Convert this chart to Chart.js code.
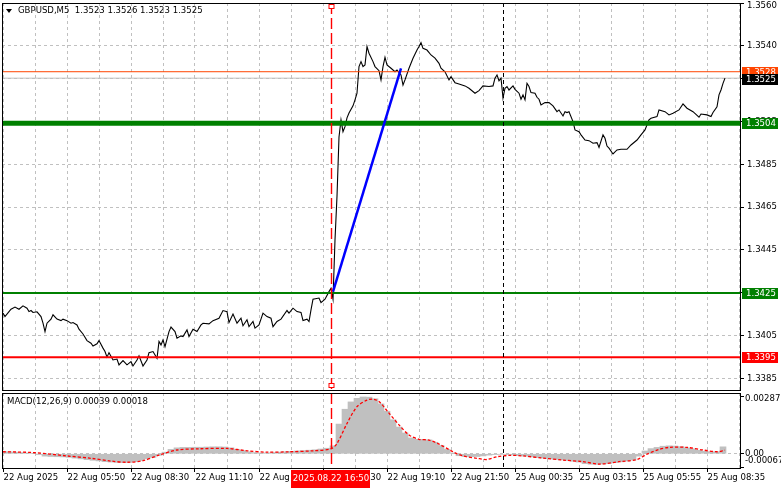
<!DOCTYPE html>
<html>
<head>
<meta charset="utf-8">
<script src="https://cdn.jsdelivr.net/npm/chart.js@4.4.1/dist/chart.umd.min.js"></script>
<style>
body{margin:0;background:#fff;}
#wrap{position:relative;width:781px;height:489px;background:#fff;}
#priceChart{position:absolute;left:0;top:0;}
#macdChart{position:absolute;left:0;top:391px;}
</style>
</head>
<body>
<div id="wrap">
<canvas id="priceChart" width="781" height="391"></canvas>
<canvas id="macdChart" width="781" height="98"></canvas>
</div>
<script>

const FONT = "'DejaVu Sans Condensed', 'DejaVu Sans', sans-serif";
const FONT_SIZE = 9.5;

Chart.defaults.font.family = FONT;
Chart.defaults.font.size = FONT_SIZE;
Chart.defaults.color = "#000";

// GBPUSD M5 closes, bar number from the left edge of the chart
const closeBars = [
0,1,3,4,6,8,10,12,13,14,15,17,19,20,21,22,24,25,27,29,30,32,34,35,37,38,40,42,44,45,47,48,
50,51,52,53,55,57,58,60,62,64,65,67,68,70,72,73,75,77,78,79,80,81,83,84,86,87,89,90,92,93,95,97,99,
100,103,105,108,110,112,113,115,117,119,120,122,123,125,126,128,130,132,134,135,137,139,142,143,145,147,149,
150,152,153,154,155,158,159,161,163,164,165,166,167,168,169,170,171,172,173,175,176,177,178,179,180,181,182,183,185,186,188,189,190,191,192,194,196,197,199,
200,201,203,205,207,208,209,210,212,214,216,218,219,221,223,224,226,228,231,233,236,238,240,243,245,246,247,248,249,
250,251,252,253,255,256,258,259,260,261,262,263,264,266,267,268,269,271,273,275,277,278,280,281,282,283,285,286,288,289,291,293,295,297,298,
300,301,302,303,305,307,309,312,314,317,319,321,323,324,327,328,331,333,335,338,340,342,345,348,349,352,354,355,357,358,359,360,361
];

const closePrices = [
1.34156,1.34140,1.34163,1.34174,1.34184,1.34174,1.34190,1.34179,1.34163,1.34168,1.34159,1.34162,1.34140,1.34109,1.34070,1.34109,1.34128,1.34148,1.34128,1.34121,1.34128,1.34121,1.34109,1.34112,1.34101,1.34081,1.34059,1.34028,1.34016,1.34003,1.34013,1.34028,
1.33993,1.33977,1.33951,1.33972,1.33938,1.33942,1.33915,1.33935,1.33915,1.33930,1.33910,1.33938,1.33957,1.33910,1.33938,1.33972,1.33977,1.33946,1.34024,1.34008,1.34031,1.34000,1.34070,1.34091,1.34070,1.34039,1.34050,1.34047,1.34078,1.34047,1.34081,1.34070,1.34101,
1.34109,1.34106,1.34121,1.34132,1.34168,1.34163,1.34112,1.34152,1.34109,1.34132,1.34097,1.34125,1.34093,1.34117,1.34086,1.34101,1.34156,1.34140,1.34132,1.34093,1.34117,1.34128,1.34168,1.34156,1.34179,1.34163,1.34159,
1.34121,1.34128,1.34117,1.34171,1.34221,1.34226,1.34205,1.34221,1.34256,1.34272,1.34221,1.34497,1.34700,1.34976,1.35056,1.35001,1.35024,1.35065,1.35088,1.35121,1.35149,1.35180,1.35304,1.35327,1.35304,1.35312,1.35397,1.35366,1.35327,1.35304,1.35285,1.35242,1.35304,1.35347,1.35312,1.35296,1.35280,1.35288,1.35265,
1.35218,1.35242,1.35296,1.35343,1.35381,1.35397,1.35415,1.35389,1.35381,1.35358,1.35343,1.35319,1.35296,1.35280,1.35242,1.35257,1.35229,1.35223,1.35214,1.35203,1.35180,1.35192,1.35214,1.35211,1.35214,1.35250,1.35265,1.35238,1.35250,
1.35157,1.35203,1.35211,1.35195,1.35214,1.35198,1.35180,1.35152,1.35172,1.35149,1.35226,1.35211,1.35183,1.35180,1.35161,1.35152,1.35125,1.35136,1.35136,1.35121,1.35094,1.35102,1.35074,1.35094,1.35090,1.35094,1.35048,1.35009,1.35001,1.34986,1.34962,1.34959,1.34947,1.34950,1.34928,
1.34986,1.34970,1.34934,1.34924,1.34897,1.34916,1.34919,1.34919,1.34939,1.34962,1.34986,1.35009,1.35056,1.35063,1.35071,1.35102,1.35094,1.35079,1.35087,1.35102,1.35130,1.35110,1.35094,1.35068,1.35083,1.35079,1.35071,1.35090,1.35117,1.35172,1.35195,1.35226,1.35250
];

const priceTicks = [1.3560, 1.3540, 1.3525, 1.3505, 1.3485, 1.3465, 1.3445, 1.3425, 1.3405, 1.3385];

const levelPrices = [1.3528, 1.3504, 1.3425, 1.3395];
const bidPrice = 1.3525;

const trendBars = [165, 199];
const trendPrices = [1.34256, 1.35296];

// MACD main values, one every 3 bars starting at bar 0
const macdValues = [
0.00012,0.00010,0.00008,0.00006,0.00004,0.00002,-0.00004,-0.00012,-0.00014,-0.00015,
-0.00016,-0.00018,-0.00022,-0.00026,-0.00030,-0.00033,-0.00036,-0.00040,-0.00042,-0.00044,
-0.00045,-0.00044,-0.00040,-0.00034,-0.00026,-0.00018,-0.00008,0.00008,0.00022,0.00030,
0.00032,0.00032,0.00033,0.00033,0.00034,0.00035,0.00035,0.00034,0.00030,0.00022,
0.00016,0.00010,0.00006,0.00004,0.00004,0.00006,0.00008,0.00010,0.00012,0.00014,
0.00016,0.00018,0.00020,0.00024,0.00028,0.00040,0.00150,0.00225,0.00262,0.00280,
0.00287,0.00286,0.00278,0.00252,0.00215,0.00172,0.00135,0.00105,0.00080,0.00073,
0.00073,0.00070,0.00058,0.00042,0.00022,0.00004,-0.00010,-0.00014,-0.00015,-0.00014,
-0.00011,-0.00007,-0.00004,-0.00003,-0.00004,-0.00006,-0.00009,-0.00012,-0.00016,-0.00019,
-0.00022,-0.00025,-0.00028,-0.00031,-0.00034,-0.00038,-0.00042,-0.00050,-0.00053,-0.00054,
-0.00052,-0.00049,-0.00045,-0.00041,-0.00037,-0.00032,-0.00012,0.00014,0.00026,0.00032,
0.00038,0.00040,0.00039,0.00036,0.00030,0.00025,0.00018,0.00013,0.00010,0.00010,
0.00035
];

const signalBars = [0,15,32,44,54,62,70,78,87,98,112,122,132,143,155,164,167,172,177,182,185,188,193,198,203,208,213,218,225,230,237,242,247,253,260,270,280,290,298,308,317,322,328,333,342,350,357,361];
const signalValues = [0.00010,0.00006,-0.00011,-0.00023,-0.00037,-0.00043,-0.00035,-0.00007,0.00019,0.00025,0.00027,0.00015,0.00008,0.00010,0.00015,0.00025,0.00052,0.00153,0.00238,0.00271,0.00276,0.00264,0.00205,0.00146,0.00095,0.00073,0.00069,0.00049,0.00010,-0.00011,-0.00023,-0.00029,-0.00015,-0.00008,-0.00011,-0.00022,-0.00032,-0.00040,-0.00052,-0.00040,-0.00029,-0.00002,0.00022,0.00032,0.00032,0.00019,0.00010,0.00018];

const macdTicks = [0.00287, 0, -0.00067];
const macdTickLabels = ["0.00287", "0.00", "-0.00067"];

const timeLabels = ["22 Aug 2025", "22 Aug 05:50", "22 Aug 08:30", "22 Aug 11:10", "22 Aug 13:50", "22 Aug 16:30",
    "22 Aug 19:10", "22 Aug 21:50", "25 Aug 00:35", "25 Aug 03:15", "25 Aug 05:55", "25 Aug 08:35"];

const crossBar = 164;
const crossText = "2025.08.22 16:50";
const markBar = 250;

const titleText = "GBPUSD,M5  1.3523 1.3526 1.3523 1.3525";
const macdText = "MACD(12,26,9) 0.00039 0.00018";


function barAxis(withTicks){

    return {
        type: "linear",
        offset: false,
        min: -0.5,
        max: 368.5,
        afterBuildTicks: axis => {
            axis.ticks = [];
            for (let b = 0; b <= 368; b += 16) {
                axis.ticks.push({ value: b });
            }
        },
        grid: {
            color: "#c0c0c0",
            offset: false,
            drawTicks: withTicks,
            tickLength: 4,
            tickColor: ctx => ctx.index % 2 ? "rgba(0,0,0,0)" : "#000"
        },
        border: { display: false, dash: [3, 3] },
        ticks: { display: false },
        afterFit: axis => {
            axis.height = withTicks ? 21 : 0;
            axis.paddingLeft = 0;
            axis.paddingRight = 0;
        }
    };

}

function frameAndMarks(isMain){

    return {
        id: "frame" + (isMain ? "Main" : "Macd"),
        afterDatasetsDraw(chart){
            const c = chart.ctx;
            const a = chart.chartArea;
            const xs = chart.scales.x;

            c.save();
            c.lineWidth = 1;

            // black dashed marker
            let x = Math.round(xs.getPixelForValue(markBar)) + 0.5;
            c.strokeStyle = "#000";
            c.setLineDash([4, 3]);
            c.beginPath();
            c.moveTo(x, a.top);
            c.lineTo(x, a.bottom);
            c.stroke();

            // red crosshair
            x = Math.round(xs.getPixelForValue(crossBar)) + 0.5;
            c.strokeStyle = "#ff0000";
            c.lineWidth = 1.4;
            c.setLineDash([11, 4]);
            c.beginPath();
            c.moveTo(x, a.top);
            c.lineTo(x, a.bottom);
            c.stroke();
            c.setLineDash([]);

            if (isMain) {
                c.lineWidth = 1;
                c.fillStyle = "#fff";
                c.fillRect(x - 2.5, a.top + 1, 5, 4);
                c.strokeRect(x - 2.5, a.top + 1.5, 5, 4);
                c.fillRect(x - 2.5, a.bottom - 6, 5, 4);
                c.strokeRect(x - 2.5, a.bottom - 6.5, 5, 4);
            }

            c.restore();
        },
        afterDraw(chart){
            const c = chart.ctx;
            const a = chart.chartArea;
            const ys = chart.scales.y;
            const xs = chart.scales.x;

            c.save();
            c.strokeStyle = "#000";
            c.lineWidth = 1;
            c.strokeRect(a.left + 0.5, a.top + 0.5, a.right - a.left, a.bottom - a.top);
            c.font = FONT_SIZE + "px " + FONT;
            c.textAlign = "left";
            c.textBaseline = "middle";
            c.fillStyle = "#000";

            if (isMain) {

                c.beginPath();
                c.moveTo(6, 9);
                c.lineTo(12, 9);
                c.lineTo(9, 13);
                c.closePath();
                c.fill();
                c.fillText(titleText, 18, 11);

                // top price label sits just inside the window
                c.fillText(priceTicks[0].toFixed(4), 747, ys.getPixelForValue(priceTicks[0]) + 2.5);

                const tagColors = ["#ff4500", "#008000", "#008000", "#ff0000"];

                levelPrices.forEach((p, i) => {
                    const y = Math.round(ys.getPixelForValue(p));
                    c.fillStyle = tagColors[i];
                    c.fillRect(742, y - 5, 36, 11);
                    c.fillStyle = "#fff";
                    c.fillText(p.toFixed(4), 746, y + 0.5);
                });

                const yb = Math.round(ys.getPixelForValue(bidPrice)) + 1;
                c.fillStyle = "#000";
                c.fillRect(742, yb - 5, 36, 11);
                c.fillStyle = "#fff";
                c.fillText(bidPrice.toFixed(4), 746, yb + 0.5);

            } else {

                c.fillText(macdText, 7, 11);

                // MT4 keeps the end labels inside the panel
                const shift = [2, 0, -6];
                macdTicks.forEach((v, i) => {
                    c.fillText(macdTickLabels[i], 745, ys.getPixelForValue(v) + shift[i]);
                });

                // time labels under every second grid line
                timeLabels.forEach((t, i) => {
                    c.fillText(t, Math.round(xs.getPixelForValue(i * 32)) + 0.5, 87);
                });

                const x = Math.round(xs.getPixelForValue(crossBar));
                c.fillStyle = "#ff0000";
                c.fillRect(x - 40, 79, 79, 18);
                c.fillStyle = "#fff";
                c.textAlign = "center";
                c.fillText(crossText, x, 88);

            }

            c.restore();
        }
    };

}

function flatLine(price, color, width){

    return {
        type: "line",
        data: [{ x: -0.5, y: price }, { x: 368.5, y: price }],
        borderColor: color,
        borderWidth: width,
        pointRadius: 0
    };

}

function loadPriceChart(){

    const prices = closeBars.map((b, i) => ({ x: b, y: closePrices[i] }));

    const trend = trendBars.map((b, i) => ({ x: b, y: trendPrices[i] }));

    new Chart(document.getElementById("priceChart"), {

        type: "line",

        data: {
            datasets: [
                { data: trend, borderColor: "#0000ff", borderWidth: 2.5, pointRadius: 0 },
                flatLine(levelPrices[0], "#ff4500", 1),
                flatLine(levelPrices[1], "#008000", 5),
                flatLine(levelPrices[2], "#008000", 2),
                flatLine(levelPrices[3], "#ff0000", 2),
                { data: prices, borderColor: "#000", borderWidth: 1.1, pointRadius: 0, tension: 0 },
                flatLine(bidPrice, "#c0c0c0", 1)
            ]
        },

        options: {
            responsive: false,
            animation: false,
            devicePixelRatio: 1,
            events: [],
            layout: { padding: { left: 2, top: 3, right: 0, bottom: 1 } },
            plugins: { legend: { display: false }, tooltip: { enabled: false } },
            scales: {
                x: barAxis(false),
                y: {
                    position: "right",
                    min: 1.33798,
                    max: 1.35600,
                    afterBuildTicks: axis => {
                        axis.ticks = priceTicks.map(v => ({ value: v }));
                    },
                    grid: { color: "#c0c0c0", tickColor: "#000", tickLength: 4 },
                    border: { display: false, dash: [3, 3] },
                    ticks: {
                        autoSkip: false,
                        padding: 3,
                        callback: (v, i) => i === 0 ? "" : v.toFixed(4)
                    },
                    afterFit: axis => {
                        axis.width = 41;
                        axis.paddingTop = 0;
                        axis.paddingBottom = 0;
                    }
                }
            }
        },

        plugins: [frameAndMarks(true)]

    });

}

function loadMacdChart(){

    const hist = macdValues.map((v, i) => ({ x: i * 3, y: v }));

    const signal = signalBars.map((b, i) => ({ x: b, y: signalValues[i] }));

    new Chart(document.getElementById("macdChart"), {

        type: "bar",

        data: {
            datasets: [
                {
                    type: "line",
                    data: signal,
                    borderColor: "#ff0000",
                    borderWidth: 1.3,
                    borderDash: [3, 2],
                    pointRadius: 0,
                    tension: 0.3
                },
                {
                    data: hist,
                    backgroundColor: "#c0c0c0",
                    barPercentage: 1,
                    categoryPercentage: 1
                }
            ]
        },

        options: {
            responsive: false,
            animation: false,
            devicePixelRatio: 1,
            events: [],
            layout: { padding: { left: 2, top: 2, right: 0, bottom: 0 } },
            plugins: { legend: { display: false }, tooltip: { enabled: false } },
            scales: {
                x: barAxis(true),
                y: {
                    position: "right",
                    min: -0.00072,
                    max: 0.00307,
                    afterBuildTicks: axis => {
                        axis.ticks = macdTicks.map(v => ({ value: v }));
                    },
                    grid: {
                        color: ctx => ctx.tick && ctx.tick.value === 0 ? "#c0c0c0" : "rgba(0,0,0,0)",
                        tickColor: "#000",
                        tickLength: 4
                    },
                    border: { display: false, dash: [3, 3] },
                    ticks: { display: false },
                    afterFit: axis => {
                        axis.width = 41;
                        axis.paddingTop = 0;
                        axis.paddingBottom = 0;
                    }
                }
            }
        },

        plugins: [frameAndMarks(false)]

    });

}

loadPriceChart();
loadMacdChart();

</script>
</body>
</html>
